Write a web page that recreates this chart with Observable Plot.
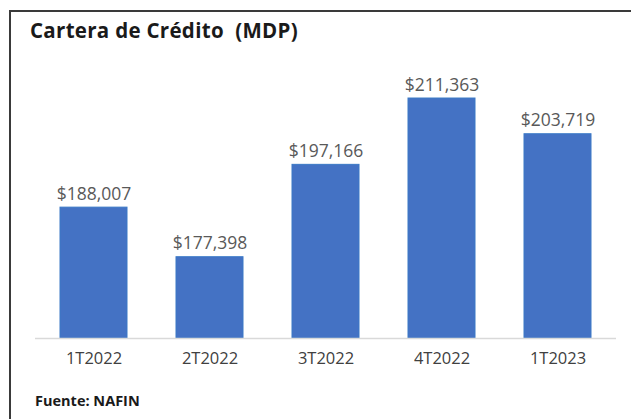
<!DOCTYPE html>
<html>
<head>
<meta charset="utf-8">
<script src="https://cdn.jsdelivr.net/npm/d3@7"></script>
<script src="https://cdn.jsdelivr.net/npm/@observablehq/plot@0.6"></script>
<style>
  html, body { margin: 0; padding: 0; background: #fff; }
  body { width: 631px; height: 419px; position: relative; overflow: hidden; font-family: "Open Sans", sans-serif; }
  #frame { position: absolute; left: 9px; top: 10px; width: 640px; height: 420px; border-left: 2px solid #3a3a3a; border-top: 2px solid #3a3a3a; }
  #title { position: absolute; left: 30px; top: 16px; font-size: 20.5px; font-weight: 700; color: #1a1a1a; white-space: pre; letter-spacing: 0.3px; }
  #chart { position: absolute; left: 0; top: 0; }
  #caption { position: absolute; left: 35px; top: 391px; font-size: 14.5px; font-weight: 700; color: #1a1a1a; }
</style>
</head>
<body>
<div id="frame"></div>
<div id="chart"></div>
<div id="title">Cartera de Crédito  (MDP)</div>
<div id="caption">Fuente: NAFIN</div>
<script>
const periods = ["1T2022", "2T2022", "3T2022", "4T2022", "1T2023"];
const values = [188007, 177398, 197166, 211363, 203719];
const labels = ["$188,007", "$177,398", "$197,166", "$211,363", "$203,719"];

const data = periods.map((p, i) => ({period: p, value: values[i], label: labels[i]}));
const yMin = 160000;

const plot = Plot.plot({
  width: 631,
  height: 380,
  marginLeft: 35,
  marginRight: 15,
  marginTop: 60,
  marginBottom: 42,
  style: {fontFamily: "'Open Sans', sans-serif", background: "transparent", overflow: "visible"},
  x: {domain: periods, paddingInner: 0.42, paddingOuter: 0.21, label: null, tickSize: 0, tickPadding: 14},
  y: {domain: [yMin, 219500], axis: null},
  marks: [
    Plot.barY(data, {x: "period", y1: yMin, y2: "value", fill: "#4472C4", stroke: "#3a79c6", strokeWidth: 1}),
    Plot.ruleY([yMin], {stroke: "#d9d9d9", strokeWidth: 1.5}),
    Plot.text(data, {x: "period", y: "value", text: "label", lineAnchor: "bottom", dy: -8, fontSize: 17.5, fill: "#595959", letterSpacing: "0.3px"}),
    Plot.axisX({tickSize: 0, tickPadding: 14, fontSize: 16.5, color: "#404040", label: null})
  ]
});
plot.querySelectorAll('[aria-label="x-axis tick label"] text').forEach(t => { t.setAttribute("fill", "#404040"); });
document.getElementById("chart").appendChild(plot);
</script>
</body>
</html>
